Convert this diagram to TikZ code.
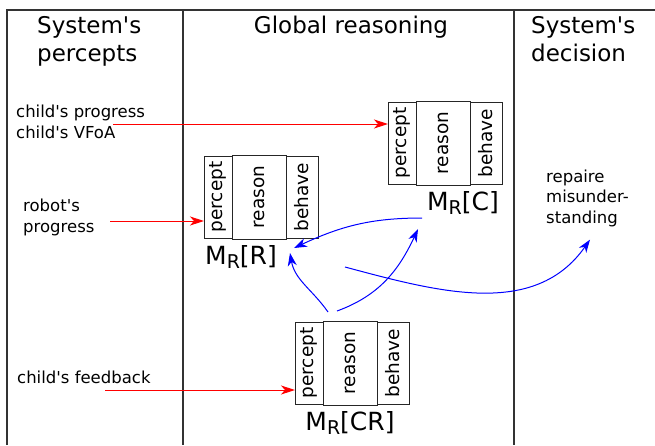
\documentclass[tikz,border=0pt]{standalone}
\usepackage{fontspec}
\setmainfont{DejaVu Sans}[Ligatures=TeXOff]
\usepackage{graphicx}
\usetikzlibrary{arrows.meta,positioning}

\tikzset{
  frame/.style={draw=black!80, line width=1.3pt},
  part/.style={draw=black!85, line width=1pt, minimum height=82pt, inner sep=0pt, outer sep=0pt,
    font=\fontsize{18.5}{20}\selectfont},
  mlabel/.style={inner sep=0pt, font=\fontsize{25}{28}\selectfont},
  head/.style={inner sep=0pt, align=left, font=\fontsize{23}{28}\selectfont},
  sense/.style={inner sep=0pt, align=left, font=\fontsize{16.5}{20.5}\selectfont},
  input/.style={red, line width=1pt, -{Stealth[length=14pt,width=9pt,inset=4pt]}},
  link/.style={blue, line width=1pt, -{Stealth[length=13pt,width=9pt,inset=4pt]}},
}
\newcommand{\modname}[1]{M\raisebox{-4pt}{\fontsize{19}{19}\selectfont R}[#1]}

\begin{document}
\begin{tikzpicture}[x=1pt,y=-1pt]
\useasboundingbox (0,0) rectangle (655,445);
% columns
\draw[frame] (7,445) -- (7,10) -- (655,10);
\draw[frame] (183,10) -- (183,445);
\draw[frame] (514,10) -- (514,445);
\node[head, anchor=base west] (hp) at (37,61) {System's\\percepts};
\node[head, anchor=base] (hg) at (351,33) {Global reasoning};
\node[head, anchor=base west] (hd) at (531,61) {System's\\decision};

% the three modules
\foreach \m/\x/\y in {C/388/102, R/204/156, CR/295/322} {
  \node[part, minimum width=28pt, anchor=north west] (\m-p) at (\x,\y) {\rotatebox{90}{percept}};
  \node[part, minimum width=54pt, minimum height=84pt, right=0pt of \m-p] (\m-r) {\rotatebox{90}{reason}};
  \node[part, minimum width=32pt, right=0pt of \m-r] (\m-b) {\rotatebox{90}{behave}};
}
\node[mlabel, anchor=north east] (C-lab) at ([shift={(-3,7)}]C-b.south east) {\modname{C}};
\node[mlabel, anchor=north west] (R-lab) at ([shift={(1,7)}]R-p.south west) {\modname{R}};
\node[mlabel, anchor=north] (CR-lab) at ([yshift=-6]CR-r.south) {\modname{CR}};

% percepts
\node[sense, anchor=base west] (prog) at (16,138) {child's progress\\child's VFoA};
\node[sense, anchor=base west] (robot) at (23,232) {robot's\\progress};
\node[sense, anchor=base west] (feed) at (17,383) {child's feedback};
\node[sense, anchor=base west] (repair) at (546,223) {repaire\\misunder-\\standing};

\coordinate (in1) at (113,124);
\coordinate (in2) at (110,221);
\coordinate (in3) at (105,390);
\draw[input] (in1) -- (in1 -| C-p.west);
\draw[input] (in2) -- (in2 -| R-p.west);
\draw[input] (in3) -- (in3 -| CR-p.west);

% links between modules
\coordinate (c1) at (422,218);
\coordinate (cr1) at (328,312);
\coordinate (cr2) at (337,311);
\coordinate (r1) at (345,267);
\draw[link] (c1) to[out=180,in=25] ([shift={(-8,10)}]R-b.south);
\draw[link] (cr1) to[out=125,in=-80] ([shift={(-12,15)}]R-b.south);
\draw[link] (cr2) to[out=20,in=-115] ([shift={(-25,44)}]C-r.south);
\draw[link] (r1) to[out=-15,in=-125] ([shift={(44,13)}]repair.south west);
\end{tikzpicture}
\end{document}
